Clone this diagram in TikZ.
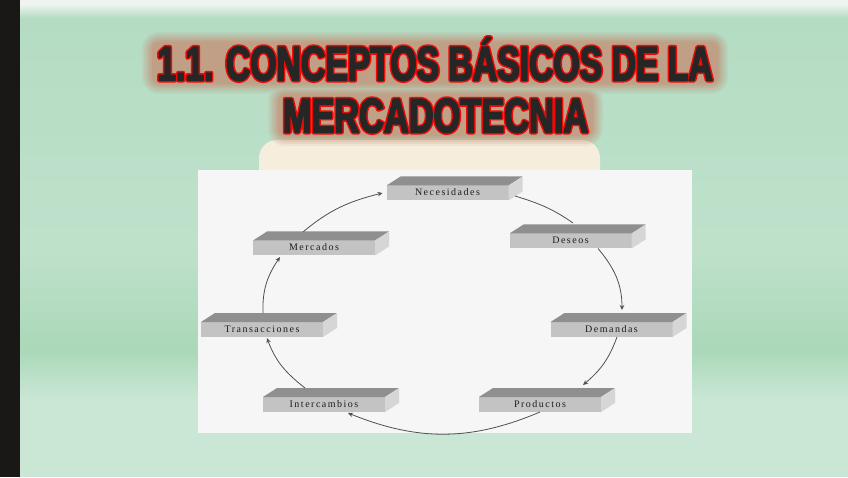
\documentclass[tikz,border=0pt]{standalone}
\usepackage{fontspec}
\setmainfont{Liberation Serif}
\newfontfamily\ttlfont{Liberation Sans}[FakeStretch=0.70]
\newfontfamily\ttlfontb{Liberation Sans}[FakeStretch=0.713]
\newfontfamily\boxfont{Liberation Serif}[LetterSpace=15]
\usetikzlibrary{arrows.meta}
\definecolor{bgtop}{HTML}{EEF5F0}
\definecolor{bgA}{HTML}{B4DCC3}
\definecolor{bgB}{HTML}{BFE1CB}
\definecolor{bgC}{HTML}{AAD8B8}
\definecolor{bgD}{HTML}{CAE7D5}
\definecolor{barc}{HTML}{1A1717}
\definecolor{beige}{HTML}{F6EEDC}
\definecolor{panel}{HTML}{F6F6F6}
\definecolor{topf}{HTML}{8F8F8F}
\definecolor{frontf}{HTML}{C3C3C3}
\definecolor{sidef}{HTML}{D6D6D6}
\definecolor{boxtxt}{HTML}{1E1E1E}
\definecolor{linec}{HTML}{505050}
\definecolor{ttxt}{HTML}{262626}
\definecolor{tred}{HTML}{F00A05}
\definecolor{glowc}{HTML}{C48F76}
\newcommand\ttlstroke[2]{\special{pdf:literal direct 2 Tr #1 w 1 j}#2\special{pdf:literal direct 0 Tr 0 j}}
\tikzset{
  ttlnode/.style={inner sep=0pt, outer sep=0pt, text height=34.5pt, text depth=0pt,
    font=\ttlfont\bfseries\fontsize{48.2}{50}\selectfont},
  ttlnodeb/.style={ttlnode, font=\ttlfontb\bfseries\fontsize{48.2}{50}\selectfont},
  frontbox/.style={fill=frontf, minimum width=122pt, minimum height=15pt, inner sep=0pt, outer sep=0pt,
    text height=7pt, text depth=1.5pt, font=\boxfont\fontsize{10}{12}\selectfont, text=boxtxt},
  conn/.style={draw=linec, line width=0.8pt, -{Stealth[length=5pt,width=4.5pt]}}
}
\newcommand\mktbox[4]{%
  \node[frontbox] (#1) at (#2,#3) {#4};
  \fill[topf] (#1.north west) -- ++(14,9) -- ++(122,0) -- (#1.north east) -- cycle;
  \fill[sidef] (#1.north east) -- ++(14,9) -- ++(0,-15) -- (#1.south east) -- cycle;
}
\newcommand\glowlayer[2]{% expansion, opacity
  \fill[glowc, opacity=#2, rounded corners=#1pt+5pt]
    (154-#1,395-#1) rectangle (716+#1,433+#1)
    (280-#1,343-#1) rectangle (591+#1,381+#1);
}
\begin{document}
\begin{tikzpicture}[x=1pt,y=1pt]
\useasboundingbox (0,0) rectangle (848,477);
% background
\fill[bgD] (0,0) rectangle (848,78);
\shade[top color=bgC, bottom color=bgD] (0,77) rectangle (848,128);
\shade[top color=bgB, bottom color=bgC] (0,127) rectangle (848,228);
\shade[top color=bgA, bottom color=bgB] (0,227) rectangle (848,460);
\shade[top color=bgtop, bottom color=bgA] (0,459) rectangle (848,473);
\fill[bgtop] (0,472) rectangle (848,477);
\fill[barc] (0,0) rectangle (19.5,477);
% beige tab and panel
\fill[beige, rounded corners=18pt] (259,290) rectangle (600,337);
\fill[panel] (198,44) rectangle (691.5,307);
% title glow
\glowlayer{12}{0.12}
\glowlayer{10}{0.14}
\glowlayer{8}{0.18}
\glowlayer{6}{0.22}
\glowlayer{4}{0.28}
\glowlayer{2}{0.34}
% title
\node[ttlnode, text=tred] (t1r) at (435,414) {\ttlstroke{4.6}{1.1. CONCEPTOS BÁSICOS DE LA}};
\node[ttlnode, text=ttxt] (t1) at (t1r.center) {\ttlstroke{1.6}{1.1. CONCEPTOS BÁSICOS DE LA}};
\node[ttlnodeb, text=tred] (t2r) at (435.5,362) {\ttlstroke{4.6}{MERCADOTECNIA}};
\node[ttlnodeb, text=ttxt] (t2) at (t2r.center) {\ttlstroke{1.6}{MERCADOTECNIA}};
% boxes
\mktbox{nec}{447.5}{284}{Necesidades}
\mktbox{des}{570.5}{236}{Deseos}
\mktbox{mer}{314}{229}{Mercados}
\mktbox{tra}{262}{147.5}{Transacciones}
\mktbox{dem}{611.5}{147.5}{Demandas}
\mktbox{int}{324}{72.5}{Intercambios}
\mktbox{pro}{540}{72.5}{Productos}
% connectors
\draw[conn,-] ([xshift=6.5pt,yshift=-3pt]nec.east) to[out=-17,in=145] ([xshift=2.5pt,yshift=10.5pt]des.north);
\draw[conn] ([xshift=27.5pt]des.south) to[out=-50,in=90] ([xshift=10.5pt,yshift=12pt]dem.north);
\draw[conn] ([xshift=5.5pt]dem.south) to[out=-110,in=40] ([xshift=43pt,yshift=12pt]pro.north);
\draw[conn] (pro.south) to[out=203,in=-22] ([xshift=24pt,yshift=-1pt]int.south);
\draw[conn] ([xshift=-19pt,yshift=9pt]int.north) to[out=142,in=-70] ([xshift=5pt,yshift=-1pt]tra.south);
\draw[conn] ([xshift=1pt,yshift=9pt]tra.north) to[out=92,in=236] ([xshift=-34pt,yshift=-1.5pt]mer.south);
\draw[conn] ([xshift=-11pt,yshift=8.5pt]mer.north) to[out=40,in=194] ([xshift=-4pt]nec.west);
\end{tikzpicture}
\end{document}
